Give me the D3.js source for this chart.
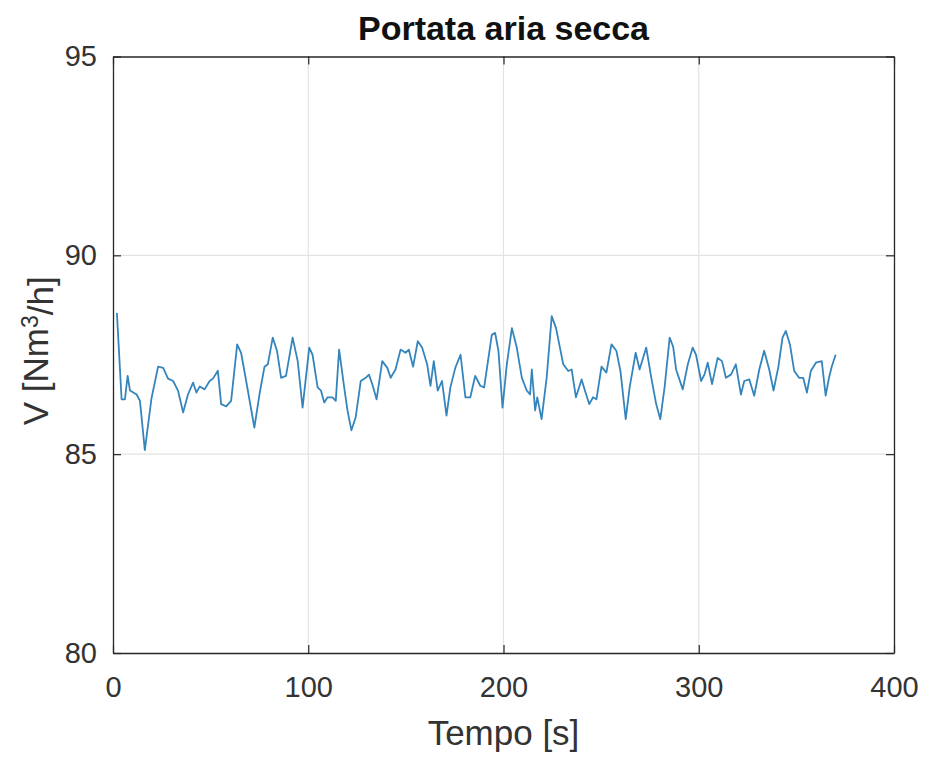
<!DOCTYPE html>
<html>
<head>
<meta charset="utf-8">
<script src="https://cdn.jsdelivr.net/npm/d3@7"></script>
<style>
    html, body { margin: 0; padding: 0; background: #fff; overflow: hidden; }
    svg { display: block; }
    text { font-family: "Liberation Sans", Arial, Helvetica, sans-serif; }
</style>
</head>
<body>
<div id="chart"></div>
<script>
    // Time samples (s) and dry air flow (Nm3/h)
    var tempo = [2, 4.4, 6.1, 7.5, 8.7, 12.1, 13.8, 16.3, 19.7, 23.1, 25.7, 28.2, 30.8, 33.3, 35.9,
        38.4, 41.0, 42.7, 44.4, 46.9, 49.5, 51.2, 53.7, 55.4, 58.0, 60.5, 63.6, 65.6, 68.2, 72.4,
        75.0, 77.6, 79.3, 81.8, 84.0, 86.1, 88.6, 92.0, 94.6, 97.1,
        100.5, 102.2, 104.8, 106.5, 108.2, 109.9, 112.4, 114.1, 115.8, 118.4, 120.1, 122.1, 124.3,
        126.9, 129.4, 131.1, 132.8, 135.0, 137.9, 140.5, 142.2, 144.7, 147.3, 149.8, 151.5, 153.7,
        156.1, 158.3, 160.9, 162.6, 164.3, 166.3, 168.5, 170.8, 172.8, 175.3, 178.0, 180.5, 183.0,
        185.5, 188.1, 190.1,
        194.0, 195.7, 197.4, 199.5, 201.7, 204.3, 206.8, 209.4, 211.9, 213.6, 214.5, 216.2, 217.3,
        219.5, 222.1, 224.7, 226.9, 228.9, 230.6, 233.2, 234.9, 237.1, 240.0, 241.7, 243.9, 245.9,
        247.6, 250.2, 252.7, 255.3, 257.8, 259.9, 262.6, 264.6, 267.7, 269.7, 273.1, 275.7, 278.2,
        280.3, 282.5, 285.1, 286.9,
        288.4, 291.8, 294.4, 296.9, 298.6, 301.2, 302.9, 304.6, 306.8, 309.7, 311.9, 313.9, 316.5,
        319.0, 321.6, 323.3, 325.9, 328.4, 331.0, 333.5, 336.1, 338.3, 340.8, 342.9, 344.6, 346.7,
        348.9, 351.4, 353.5, 355.4, 357.4, 360.0, 363.0, 365.0, 366.7, 368.1, 370.1];
    var portata = [88.55, 86.38, 86.38, 86.97, 86.6, 86.5, 86.34, 85.1, 86.4, 87.2, 87.17, 86.9, 86.84, 86.6, 86.05,
        86.5, 86.8, 86.55, 86.7, 86.63, 86.84, 86.9, 87.1, 86.26, 86.2, 86.34, 87.76, 87.55, 86.84, 85.67,
        86.5, 87.2, 87.26, 87.93, 87.6, 86.92, 86.97, 87.93, 87.34, 86.17,
        87.68, 87.5, 86.68, 86.6, 86.3, 86.43, 86.43, 86.34, 87.63, 86.68, 86.1, 85.6, 85.93,
        86.84, 86.92, 87.0, 86.76, 86.38, 87.34, 87.17, 86.92, 87.13, 87.63, 87.55, 87.63, 87.2,
        87.84, 87.68, 87.26, 86.72, 87.34, 86.6, 86.84, 85.97, 86.68, 87.17, 87.5, 86.43, 86.43,
        86.97, 86.72, 86.68,
        88.0, 88.05, 87.6, 86.17, 87.26, 88.17, 87.68, 86.92, 86.6, 86.5, 87.13, 86.1, 86.43,
        85.88, 86.92, 88.47, 88.17, 87.68, 87.26, 87.09, 87.13, 86.43, 86.88, 86.6, 86.26, 86.43,
        86.38, 87.2, 87.05, 87.76, 87.6, 87.09, 85.88, 86.68, 87.55, 87.13, 87.68, 86.92, 86.26,
        85.88, 86.68, 87.93, 87.7,
        87.13, 86.63, 87.26, 87.68, 87.5, 86.84, 87.0, 87.3, 86.76, 87.42, 87.34, 86.92, 87.0,
        87.26, 86.5, 86.84, 86.88, 86.47, 87.13, 87.6, 87.13, 86.6, 87.2, 87.93, 88.1, 87.76,
        87.09, 86.92, 86.92, 86.55, 87.09, 87.3, 87.34, 86.47, 86.92, 87.2, 87.5];

    var xTicks = [0, 100, 200, 300, 400];
    var yTicks = [80, 85, 90, 95];

    var chartTitle = "Portata aria secca";
    var xLabel = "Tempo [s]";

    var width = 925, height = 758;
    var margin = { top: 56.5, right: 31, bottom: 105, left: 113 };
    var innerWidth = width - margin.left - margin.right;
    var innerHeight = height - margin.top - margin.bottom;

    var axisColor = "#262626";
    var lineColor = "#3585bd";

    var svg = d3.select("#chart")
        .append("svg")
        .attr("width", width)
        .attr("height", height);

    var g = svg.append("g")
        .attr("transform", `translate(${margin.left}, ${margin.top})`);

    var x = d3.scaleLinear().domain([0, 400]).range([0, innerWidth]);
    var y = d3.scaleLinear().domain([80, 95]).range([innerHeight, 0]);

    // Grid lines
    g.append("g")
        .selectAll("line")
        .data(xTicks.slice(1, -1))
        .join("line")
        .attr("x1", d => x(d)).attr("x2", d => x(d))
        .attr("y1", 0).attr("y2", innerHeight)
        .attr("stroke", "#e3e3e3")
        .attr("stroke-width", 1.2);

    g.append("g")
        .selectAll("line")
        .data(yTicks.slice(1, -1))
        .join("line")
        .attr("x1", 0).attr("x2", innerWidth)
        .attr("y1", d => y(d)).attr("y2", d => y(d))
        .attr("stroke", "#e3e3e3")
        .attr("stroke-width", 1.2);

    // The data line
    var line = d3.line()
        .x((d, i) => x(tempo[i]))
        .y(d => y(d));

    g.append("path")
        .datum(portata)
        .attr("fill", "none")
        .attr("stroke", lineColor)
        .attr("stroke-width", 1.8)
        .attr("stroke-linejoin", "round")
        .attr("d", line);

    // Axes with inward ticks
    function styleAxis(sel) {
        sel.select(".domain").attr("stroke", axisColor).attr("stroke-width", 1.3);
        sel.selectAll(".tick line").attr("stroke", axisColor).attr("stroke-width", 1.2);
        sel.selectAll(".tick text")
            .attr("fill", "#333")
            .style("font-size", "29px");
    }

    var xAxis = g.append("g")
        .attr("transform", `translate(0, ${innerHeight})`)
        .call(d3.axisBottom(x).tickValues(xTicks).tickSizeInner(-8).tickSizeOuter(0).tickPadding(23))
        .call(styleAxis);

    var topAxis = g.append("g")
        .call(d3.axisTop(x).tickValues(xTicks).tickSizeInner(-8).tickSizeOuter(0))
        .call(styleAxis);
    topAxis.selectAll(".tick text").remove();

    var yAxis = g.append("g")
        .call(d3.axisLeft(y).tickValues(yTicks).tickSizeInner(-8).tickSizeOuter(0).tickPadding(16))
        .call(styleAxis);

    var rightAxis = g.append("g")
        .attr("transform", `translate(${innerWidth}, 0)`)
        .call(d3.axisRight(y).tickValues(yTicks).tickSizeInner(-8).tickSizeOuter(0))
        .call(styleAxis);
    rightAxis.selectAll(".tick text").remove();

    xAxis.selectAll(".tick text").attr("dy", "0.71em");

    // Title and axis labels
    svg.append("text")
        .attr("x", margin.left + innerWidth / 2)
        .attr("y", 40)
        .attr("text-anchor", "middle")
        .attr("fill", "#111")
        .style("font-size", "34px")
        .style("font-weight", "bold")
        .text(chartTitle);

    svg.append("text")
        .attr("x", margin.left + innerWidth / 2)
        .attr("y", 745)
        .attr("text-anchor", "middle")
        .attr("fill", "#333")
        .style("font-size", "35px")
        .text(xLabel);

    var yLab = svg.append("text")
        .attr("transform", `translate(48, ${margin.top + innerHeight / 2 - 4}) rotate(-90)`)
        .attr("text-anchor", "middle")
        .attr("fill", "#333")
        .style("font-size", "35px");
    yLab.append("tspan").text("V [Nm");
    yLab.append("tspan").attr("dy", "-0.45em").style("font-size", "23px").text("3");
    yLab.append("tspan").attr("dy", "0.45em").text("/h]");
</script>
</body>
</html>
